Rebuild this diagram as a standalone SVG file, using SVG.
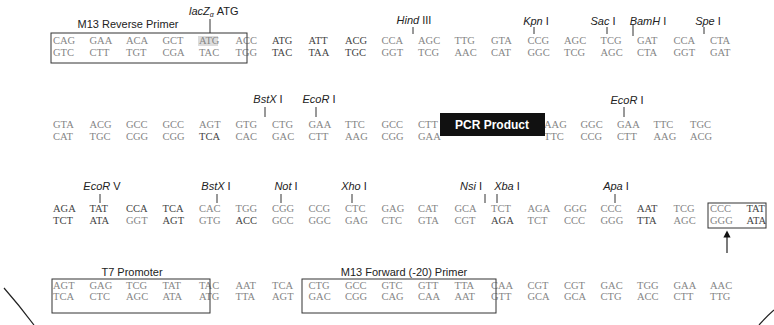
<svg xmlns="http://www.w3.org/2000/svg" width="774" height="325" viewBox="0 0 774 325">
<defs>
<style>
.c{font-family:"Liberation Serif",serif;font-size:10.5px;fill:#858585}
.d{font-family:"Liberation Serif",serif;font-size:10.5px;fill:#444}
.lb{font-family:"Liberation Sans",Arial,sans-serif;font-size:11px;fill:#222}
.lm{text-anchor:middle}
.it{font-style:italic}
.tk{stroke:#333;stroke-width:1}
.bx{fill:none;stroke:#333;stroke-width:1}
</style>
<marker id="ah" viewBox="0 0 10 10" refX="5" refY="5" markerWidth="6" markerHeight="6" orient="auto">
<path d="M0,0 L10,5 L0,10 z" fill="#111"/>
</marker>
</defs>
<rect width="774" height="325" fill="#fff"/>

<g id="row1">
<rect x="198" y="36" width="20" height="10" fill="#dcdcdc"/>
<text class="c" y="44"><tspan x="53">CAG</tspan><tspan x="89.5">GAA</tspan><tspan x="126">ACA</tspan><tspan x="162.5">GCT</tspan><tspan x="199">ATG</tspan><tspan x="235.5">ACC</tspan></text>
<text class="d" y="44"><tspan x="272">ATG</tspan><tspan x="308.5">ATT</tspan><tspan x="345">ACG</tspan></text>
<text class="c" y="44"><tspan x="381.5">CCA</tspan><tspan x="418">AGC</tspan><tspan x="454.5">TTG</tspan><tspan x="491">GTA</tspan><tspan x="527.5">CCG</tspan><tspan x="564">AGC</tspan><tspan x="600.5">TCG</tspan><tspan x="637">GAT</tspan><tspan x="673.5">CCA</tspan><tspan x="710">CTA</tspan></text>
<text class="c" y="55.5"><tspan x="53">GTC</tspan><tspan x="89.5">CTT</tspan><tspan x="126">TGT</tspan><tspan x="162.5">CGA</tspan><tspan x="199">TAC</tspan><tspan x="235.5">TGG</tspan></text>
<text class="d" y="55.5"><tspan x="272">TAC</tspan><tspan x="308.5">TAA</tspan><tspan x="345">TGC</tspan></text>
<text class="c" y="55.5"><tspan x="381.5">GGT</tspan><tspan x="418">TCG</tspan><tspan x="454.5">AAC</tspan><tspan x="491">CAT</tspan><tspan x="527.5">GGC</tspan><tspan x="564">TCG</tspan><tspan x="600.5">AGC</tspan><tspan x="637">CTA</tspan><tspan x="673.5">GGT</tspan><tspan x="710">GAT</tspan></text>
</g>

<g id="m13-reverse">
<rect class="bx" x="51" y="33" width="196" height="30"/>
<text class="lb lm" x="128" y="28">M13 Reverse Primer</text>
</g>
<g id="lacz">
<text class="lb" x="189" y="15"><tspan class="it">lacZ</tspan><tspan class="it" font-size="7" dy="2">α</tspan><tspan dy="-2"> ATG</tspan></text>
<line class="tk" x1="210" y1="19" x2="210" y2="33"/>
</g>
<g id="hind3"><text class="lb lm" x="414" y="24"><tspan class="it">Hind</tspan> III</text><line class="tk" x1="413" y1="27" x2="413" y2="34"/></g>
<g id="kpn1"><text class="lb lm" x="536" y="25"><tspan class="it">Kpn</tspan> I</text><line class="tk" x1="534" y1="27" x2="534" y2="34"/></g>
<g id="sac1"><text class="lb lm" x="603" y="25"><tspan class="it">Sac</tspan> I</text><line class="tk" x1="607" y1="27" x2="607" y2="34"/></g>
<g id="bamh1"><text class="lb lm" x="648" y="25"><tspan class="it">BamH</tspan> I</text><line class="tk" x1="633" y1="24" x2="633" y2="36"/></g>
<g id="spe1"><text class="lb lm" x="708" y="25"><tspan class="it">Spe</tspan> I</text><line class="tk" x1="704" y1="27" x2="704" y2="34"/></g>

<g id="row2">
<text class="c" y="128"><tspan x="53">GTA</tspan><tspan x="89.5">ACG</tspan><tspan x="126">GCC</tspan><tspan x="162.5">GCC</tspan><tspan x="199">AGT</tspan><tspan x="235.5">GTG</tspan><tspan x="272">CTG</tspan><tspan x="308.5">GAA</tspan><tspan x="345">TTC</tspan><tspan x="381.5">GCC</tspan><tspan x="418">CTT</tspan><tspan x="544">AAG</tspan><tspan x="580.5">GGC</tspan><tspan x="617">GAA</tspan><tspan x="653.5">TTC</tspan><tspan x="690">TGC</tspan></text>
<text class="c" y="139.5"><tspan x="53">CAT</tspan><tspan x="89.5">TGC</tspan><tspan x="126">CGG</tspan><tspan x="162.5">CGG</tspan></text>
<text class="d" y="139.5"><tspan x="199">TCA</tspan></text>
<text class="c" y="139.5"><tspan x="235.5">CAC</tspan><tspan x="272">GAC</tspan><tspan x="308.5">CTT</tspan><tspan x="345">AAG</tspan><tspan x="381.5">CGG</tspan><tspan x="418">GAA</tspan><tspan x="544">TTC</tspan><tspan x="580.5">CCG</tspan><tspan x="617">CTT</tspan><tspan x="653.5">AAG</tspan><tspan x="690">ACG</tspan></text>
</g>
<g id="pcr-product">
<rect x="440" y="113" width="105" height="23" fill="#111"/>
<text x="492" y="129" text-anchor="middle" font-family="Liberation Sans, Arial, sans-serif" font-size="12" font-weight="bold" fill="#fff">PCR Product</text>
</g>
<g id="bstx1-a"><text class="lb lm" x="268" y="103"><tspan class="it">BstX</tspan> I</text><line class="tk" x1="265" y1="107" x2="265" y2="117"/></g>
<g id="ecor1-a"><text class="lb lm" x="319" y="103"><tspan class="it">EcoR</tspan> I</text><line class="tk" x1="316" y1="107" x2="316" y2="117"/></g>
<g id="ecor1-b"><text class="lb lm" x="627" y="104"><tspan class="it">EcoR</tspan> I</text><line class="tk" x1="624" y1="107" x2="624" y2="117"/></g>

<g id="row3">
<text class="d" y="212"><tspan x="53">AGA</tspan><tspan x="89.5">TAT</tspan><tspan x="126">CCA</tspan><tspan x="162.5">TCA</tspan></text>
<text class="c" y="212"><tspan x="199">CAC</tspan><tspan x="235.5">TGG</tspan><tspan x="272">CGG</tspan><tspan x="308.5">CCG</tspan><tspan x="345">CTC</tspan><tspan x="381.5">GAG</tspan><tspan x="418">CAT</tspan><tspan x="454.5">GCA</tspan><tspan x="491">TCT</tspan><tspan x="527.5">AGA</tspan><tspan x="564">GGG</tspan><tspan x="600.5">CCC</tspan></text>
<text class="d" y="212"><tspan x="637">AAT</tspan></text>
<text class="c" y="212"><tspan x="673.5">TCG</tspan><tspan x="710">CCC</tspan></text>
<text class="d" y="212"><tspan x="746.5">TAT</tspan></text>
<text class="d" y="223.5"><tspan x="53">TCT</tspan><tspan x="89.5">ATA</tspan></text>
<text class="c" y="223.5"><tspan x="126">GGT</tspan></text>
<text class="d" y="223.5"><tspan x="162.5">AGT</tspan></text>
<text class="c" y="223.5"><tspan x="199">GTG</tspan></text>
<text class="d" y="223.5"><tspan x="235.5">ACC</tspan></text>
<text class="c" y="223.5"><tspan x="272">GCC</tspan><tspan x="308.5">GGC</tspan><tspan x="345">GAG</tspan><tspan x="381.5">CTC</tspan><tspan x="418">GTA</tspan><tspan x="454.5">CGT</tspan></text>
<text class="d" y="223.5"><tspan x="491">AGA</tspan></text>
<text class="c" y="223.5"><tspan x="527.5">TCT</tspan><tspan x="564">CCC</tspan><tspan x="600.5">GGG</tspan></text>
<text class="d" y="223.5"><tspan x="637">TTA</tspan></text>
<text class="c" y="223.5"><tspan x="673.5">AGC</tspan><tspan x="710">GGG</tspan></text>
<text class="d" y="223.5"><tspan x="746.5">ATA</tspan></text>
</g>
<g id="ecorv"><text class="lb lm" x="102" y="190"><tspan class="it">EcoR</tspan> V</text><line class="tk" x1="100" y1="194" x2="100" y2="203"/></g>
<g id="bstx1-b"><text class="lb lm" x="216" y="190"><tspan class="it">BstX</tspan> I</text><line class="tk" x1="217" y1="194" x2="217" y2="203"/></g>
<g id="not1"><text class="lb lm" x="286" y="190"><tspan class="it">Not</tspan> I</text><line class="tk" x1="281" y1="194" x2="281" y2="203"/></g>
<g id="xho1"><text class="lb lm" x="354" y="190"><tspan class="it">Xho</tspan> I</text><line class="tk" x1="352" y1="194" x2="352" y2="203"/></g>
<g id="nsi1"><text class="lb lm" x="471" y="190"><tspan class="it">Nsi</tspan> I</text><line class="tk" x1="485" y1="194" x2="485" y2="203"/></g>
<g id="xba1"><text class="lb lm" x="507" y="190"><tspan class="it">Xba</tspan> I</text><line class="tk" x1="497" y1="194" x2="497" y2="203"/></g>
<g id="apa1"><text class="lb lm" x="616" y="190"><tspan class="it">Apa</tspan> I</text><line class="tk" x1="615" y1="194" x2="615" y2="203"/></g>
<g id="start-box">
<rect class="bx" x="708" y="203" width="58" height="25"/>
</g>

<g id="row4">
<text class="c" y="288.5"><tspan x="53">AGT</tspan><tspan x="89.5">GAG</tspan><tspan x="126">TCG</tspan><tspan x="162.5">TAT</tspan><tspan x="199">TAC</tspan><tspan x="235.5">AAT</tspan><tspan x="272">TCA</tspan><tspan x="308.5">CTG</tspan><tspan x="345">GCC</tspan><tspan x="381.5">GTC</tspan><tspan x="418">GTT</tspan><tspan x="454.5">TTA</tspan><tspan x="491">CAA</tspan><tspan x="527.5">CGT</tspan><tspan x="564">CGT</tspan><tspan x="600.5">GAC</tspan><tspan x="637">TGG</tspan><tspan x="673.5">GAA</tspan><tspan x="710">AAC</tspan></text>
<text class="c" y="300"><tspan x="53">TCA</tspan><tspan x="89.5">CTC</tspan><tspan x="126">AGC</tspan><tspan x="162.5">ATA</tspan><tspan x="199">ATG</tspan><tspan x="235.5">TTA</tspan><tspan x="272">AGT</tspan><tspan x="308.5">GAC</tspan><tspan x="345">CGG</tspan><tspan x="381.5">CAG</tspan><tspan x="418">CAA</tspan><tspan x="454.5">AAT</tspan><tspan x="491">GTT</tspan><tspan x="527.5">GCA</tspan><tspan x="564">GCA</tspan><tspan x="600.5">CTG</tspan><tspan x="637">ACC</tspan><tspan x="673.5">CTT</tspan><tspan x="710">TTG</tspan></text>
</g>
<g id="t7-promoter">
<rect class="bx" x="52" y="279" width="158" height="34"/>
<text class="lb lm" x="132" y="276">T7 Promoter</text>
</g>
<g id="m13-forward">
<rect class="bx" x="302" y="279" width="194" height="34"/>
<text class="lb lm" x="404" y="276">M13 Forward (-20) Primer</text>
</g>

<g id="connectors" fill="none" stroke="#222" stroke-width="1.2">
<line x1="727" y1="253" x2="727" y2="234" marker-end="url(#ah)"/>
<path d="M4,288 Q19,305 34,325"/>
<path d="M774,310 Q766,317 759,325"/>
</g>
</svg>
